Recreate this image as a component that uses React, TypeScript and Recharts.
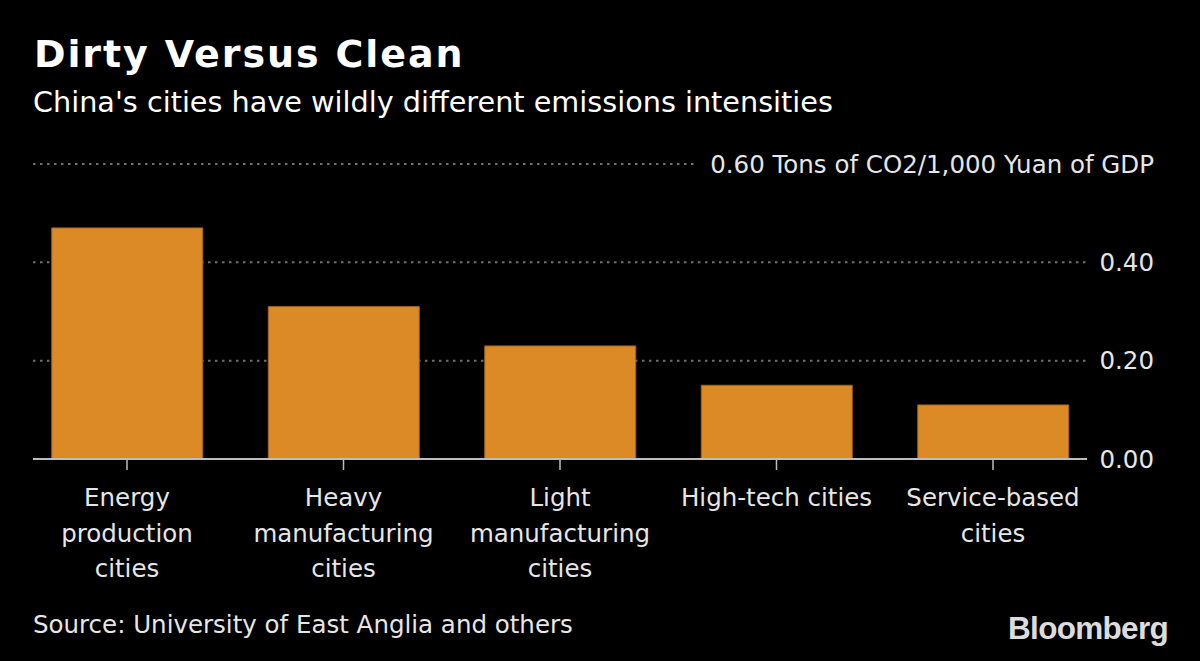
import React from "react";
import { BarChart, Bar, XAxis, YAxis, CartesianGrid, ReferenceLine } from "recharts";

// values (tons of CO2 per 1,000 yuan of GDP)
const categories = [
  "Energy production cities",
  "Heavy manufacturing cities",
  "Light manufacturing cities",
  "High-tech cities",
  "Service-based cities",
];
const intensity = [0.47, 0.31, 0.23, 0.15, 0.11];
const tickLabelLines = [
  ["Energy", "production", "cities"],
  ["Heavy", "manufacturing", "cities"],
  ["Light", "manufacturing", "cities"],
  ["High-tech cities"],
  ["Service-based", "cities"],
];
const yTicks = [0, 0.2, 0.4, 0.6];
const yUnit = "Tons of CO2/1,000 Yuan of GDP";

const FONT = "'DejaVu Sans', Verdana, sans-serif";
const LABEL = "#e6e6e6";

const data = categories.map((name, i) => ({ name, value: intensity[i] }));

function CategoryTick(props: any) {
  const { x, y, payload } = props;
  const idx = categories.indexOf(payload.value);
  const lines = tickLabelLines[idx] ?? [payload.value];
  return (
    <text x={x} y={y} textAnchor="middle" fill={LABEL} fontFamily={FONT} fontSize={24.5}>
      {lines.map((l, i) => (
        <tspan key={i} x={x} dy={i === 0 ? 36 : 35.5}>
          {l}
        </tspan>
      ))}
    </text>
  );
}

function ValueTick(props: any) {
  const { x, y, payload } = props;
  const top = payload.value === yTicks[yTicks.length - 1];
  const txt = payload.value.toFixed(2) + (top ? " " + yUnit : "");
  return (
    <text x={x + 67} y={y + 8.5} textAnchor="end" fill={LABEL} fontFamily={FONT} fontSize={24.5}>
      {txt}
    </text>
  );
}

function GridLine(props: any) {
  const { x1, x2, y1, y2, index } = props;
  if (index === 0) return <g />;
  // the top line stops short of its long unit label
  const end = index === yTicks.length - 1 ? 695 : x2;
  return (
    <line x1={x1} x2={end} y1={y1} y2={y2} stroke="#6f6f6f" strokeWidth={2} strokeDasharray="2.5 4.5" />
  );
}

export default function App() {
  return (
    <div style={{ position: "absolute", left: 0, top: 0, width: 1200, height: 661, background: "#000" }}>
      <svg width={1200} height={661} style={{ position: "absolute", left: 0, top: 0 }}>
        <text x={34} y={67} fill="#fff" fontFamily={FONT} fontWeight="bold" fontSize={38} letterSpacing={1.9}>
          Dirty Versus Clean
        </text>
        <text x={33} y={112} fill="#fff" fontFamily={FONT} fontSize={28.7}>
          China's cities have wildly different emissions intensities
        </text>
        <text x={33} y={633} fill={LABEL} fontFamily={FONT} fontSize={24.5}>
          Source: University of East Anglia and others
        </text>
        <text
          x={1168}
          y={639}
          textAnchor="end"
          fill="#dcdcdc"
          fontFamily="'Liberation Sans', Arial, sans-serif"
          fontWeight="bold"
          fontSize={31.5}
          letterSpacing={-0.7}
        >
          Bloomberg
        </text>
      </svg>
      <div style={{ position: "absolute", left: 0, top: 0 }}>
        <BarChart width={1200} height={661} data={data} margin={{ top: 164, right: 0, left: 33, bottom: 52 }}>
          <CartesianGrid vertical={false} horizontal={(p: any) => <GridLine {...p} />} />
          <XAxis
            dataKey="name"
            height={150}
            padding={{ left: -14.25, right: -14.25 }}
            axisLine={false}
            tickLine={{ stroke: "#bdbdbd", strokeWidth: 1.5 }}
            tickSize={11}
            tickMargin={0}
            tick={<CategoryTick />}
            interval={0}
          />
          <YAxis
            orientation="right"
            width={113}
            domain={[0, 0.6]}
            ticks={yTicks}
            axisLine={false}
            tickLine={false}
            tickSize={0}
            tickMargin={0}
            tick={<ValueTick />}
          />
          <Bar
            dataKey="value"
            fill="#dc8a26"
            stroke="#9c6420"
            strokeWidth={1}
            barSize={151}
            isAnimationActive={false}
          />
          <ReferenceLine y={0} stroke="#bdbdbd" strokeWidth={2} />
        </BarChart>
      </div>
    </div>
  );
}
